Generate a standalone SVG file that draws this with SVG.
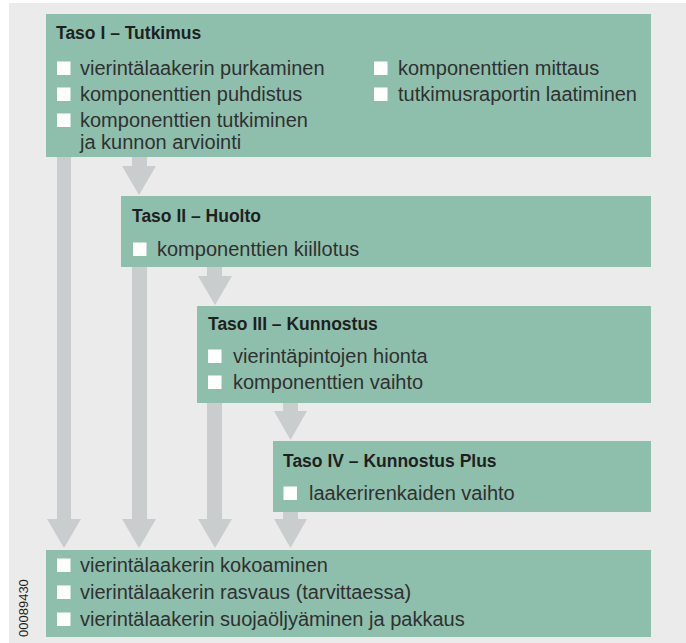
<svg xmlns="http://www.w3.org/2000/svg" width="686" height="643" viewBox="0 0 686 643">
  <style>
    .box { fill: #8ebfad; }
    .cb { fill: #ffffff; }
    .bar { fill: #c9cdcd; }
    .title { font-family: "Liberation Sans", Arial, sans-serif; font-weight: bold; font-size: 17.5px; fill: #1f1f1f; }
    .item { font-family: "Liberation Sans", Arial, sans-serif; font-size: 20px; fill: #303030; }
    .code { font-family: "Liberation Sans", Arial, sans-serif; font-size: 13px; fill: #1f1f1f; }
  </style>
  <rect x="0" y="0" width="686" height="643" fill="#ffffff"/>
  <rect x="9" y="3" width="677" height="640" fill="#ebebeb"/>

  <g id="connectors">
    <rect class="bar" x="57" y="157" width="14" height="363"/>
    <polygon class="bar" points="47,519 81,519 64,548"/>
    <rect class="bar" x="132" y="157" width="15" height="10"/>
    <polygon class="bar" points="122,166 156,166 139,195"/>
    <rect class="bar" x="132" y="267" width="15" height="253"/>
    <polygon class="bar" points="122,519 156,519 139,548"/>
    <rect class="bar" x="207" y="267" width="15" height="10"/>
    <polygon class="bar" points="198,276 232,276 215,305"/>
    <rect class="bar" x="207" y="403" width="15" height="117"/>
    <polygon class="bar" points="198,519 232,519 215,548"/>
    <rect class="bar" x="283" y="403" width="15" height="9"/>
    <polygon class="bar" points="274,411 307,411 290.5,440"/>
    <rect class="bar" x="283" y="512" width="15" height="8"/>
    <polygon class="bar" points="274,519 307,519 290.5,548"/>
  </g>

  <g id="taso1">
    <rect class="box" x="46" y="14" width="605" height="143"/>
    <text class="title" x="56" y="39">Taso I – Tutkimus</text>
    <rect class="cb" x="57" y="61.5" width="13.5" height="13.5"/>
    <text class="item" x="80" y="75">vierintälaakerin purkaminen</text>
    <rect class="cb" x="57" y="87.5" width="13.5" height="13.5"/>
    <text class="item" x="80" y="101">komponenttien puhdistus</text>
    <rect class="cb" x="57" y="113.5" width="13.5" height="13.5"/>
    <text class="item" x="80" y="127">komponenttien tutkiminen</text>
    <text class="item" x="80" y="149">ja kunnon arviointi</text>
    <rect class="cb" x="374" y="61.5" width="13.5" height="13.5"/>
    <text class="item" x="398" y="75">komponenttien mittaus</text>
    <rect class="cb" x="374" y="87.5" width="13.5" height="13.5"/>
    <text class="item" x="398" y="101">tutkimusraportin laatiminen</text>
  </g>

  <g id="taso2">
    <rect class="box" x="121" y="196" width="530" height="71"/>
    <text class="title" x="132" y="222">Taso II – Huolto</text>
    <rect class="cb" x="133" y="242.5" width="13.5" height="13.5"/>
    <text class="item" x="157" y="256">komponenttien kiillotus</text>
  </g>

  <g id="taso3">
    <rect class="box" x="197" y="306" width="454" height="97"/>
    <text class="title" x="208" y="330">Taso III – Kunnostus</text>
    <rect class="cb" x="208" y="349.5" width="13.5" height="13.5"/>
    <text class="item" x="233" y="363">vierintäpintojen hionta</text>
    <rect class="cb" x="208" y="375.5" width="13.5" height="13.5"/>
    <text class="item" x="233" y="389">komponenttien vaihto</text>
  </g>

  <g id="taso4">
    <rect class="box" x="273" y="441" width="378" height="71"/>
    <text class="title" x="283" y="467">Taso IV – Kunnostus Plus</text>
    <rect class="cb" x="283.5" y="486.5" width="13.5" height="13.5"/>
    <text class="item" x="309" y="500">laakerirenkaiden vaihto</text>
  </g>

  <g id="kokoaminen">
    <rect class="box" x="46" y="550" width="605" height="87"/>
    <rect class="cb" x="57" y="558.5" width="13.5" height="13.5"/>
    <text class="item" x="80" y="572">vierintälaakerin kokoaminen</text>
    <rect class="cb" x="57" y="585.5" width="13.5" height="13.5"/>
    <text class="item" x="80" y="599">vierintälaakerin rasvaus (tarvittaessa)</text>
    <rect class="cb" x="57" y="612.5" width="13.5" height="13.5"/>
    <text class="item" x="80" y="626">vierintälaakerin suojaöljyäminen ja pakkaus</text>
  </g>

  <text class="code" transform="translate(28,637) rotate(-90)">00089430</text>
</svg>
